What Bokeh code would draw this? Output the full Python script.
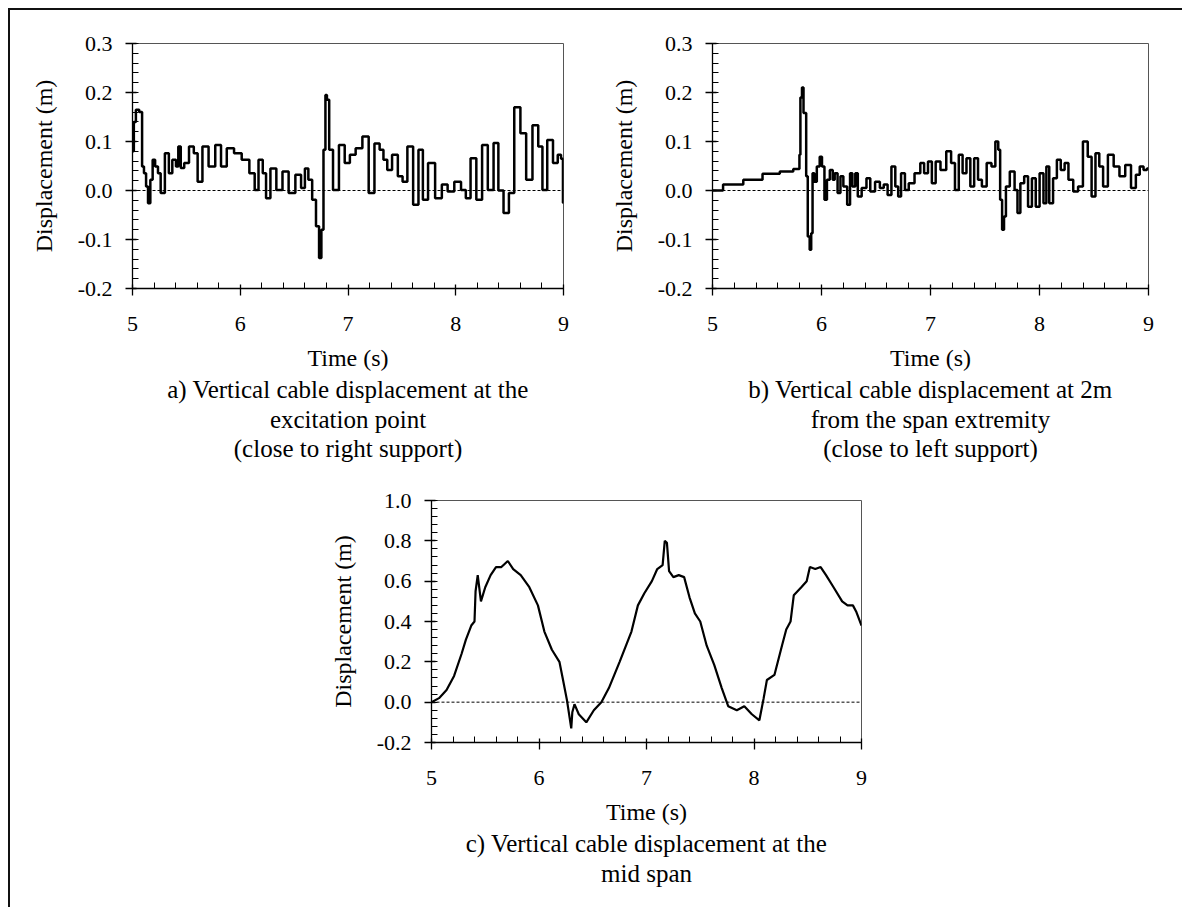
from bokeh.plotting import figure
from bokeh.models import FixedTicker, NumeralTickFormatter, Span, Title, Range1d
from bokeh.layouts import column, row
from bokeh.embed import file_html
from bokeh.resources import INLINE

FONT = "Liberation Serif"

# ---------------- data ----------------
time_a = [5.005, 5.020, 5.043, 5.082, 5.096, 5.117, 5.135, 5.153, 5.178, 5.196,
          5.224, 5.249, 5.274, 5.327, 5.348, 5.391, 5.416, 5.434, 5.462, 5.498,
          5.551, 5.587, 5.622, 5.676, 5.736, 5.800, 5.843, 5.907, 5.978, 6.049,
          6.120, 6.148, 6.191, 6.227, 6.252, 6.308, 6.362, 6.422, 6.476, 6.547,
          6.582, 6.618, 6.646, 6.689, 6.717, 6.746, 6.760, 6.785, 6.796, 6.813,
          6.838, 6.884, 6.948, 6.991, 7.044, 7.098, 7.169, 7.215, 7.276, 7.311,
          7.347, 7.382, 7.436, 7.489, 7.524, 7.578, 7.631, 7.677, 7.713, 7.773,
          7.844, 7.898, 7.951, 8.022, 8.076, 8.111, 8.164, 8.218, 8.271, 8.324,
          8.378, 8.413, 8.474, 8.513, 8.573, 8.627, 8.680, 8.744, 8.787, 8.822,
          8.876, 8.929, 8.964, 8.990, 9.000]
disp_a = [0.080, 0.140, 0.165, 0.160, 0.049, 0.035, 0.008, -0.026, 0.022, 0.063,
          0.049, 0.035, -0.005, 0.076, 0.035, 0.063, 0.049, 0.090, 0.046, 0.056,
          0.090, 0.076, 0.018, 0.090, 0.049, 0.093, 0.049, 0.086, 0.076, 0.063,
          0.035, 0.001, 0.063, 0.035, -0.016, 0.045, 0.001, 0.039, -0.005, 0.032,
          0.005, 0.045, 0.022, -0.019, -0.073, -0.138, -0.080, 0.083, 0.195, 0.185,
          0.083, 0.001, 0.093, 0.056, 0.073, 0.086, 0.110, -0.005, 0.096, 0.083,
          0.063, 0.042, 0.073, 0.029, 0.018, 0.090, -0.029, 0.083, -0.019, 0.056,
          -0.016, 0.012, -0.002, 0.018, 0.001, -0.016, 0.066, -0.019, 0.093, 0.001,
          0.097, 0.000, -0.046, -0.005, 0.170, 0.117, 0.022, 0.133, 0.090, 0.001,
          0.103, 0.056, 0.073, 0.065, -0.025]

time_b = [5.000, 5.194, 5.371, 5.547, 5.688, 5.794, 5.801, 5.812, 5.830, 5.840,
          5.854, 5.865, 5.883, 5.900, 5.911, 5.925, 5.943, 5.971, 5.996, 6.013,
          6.041, 6.059, 6.094, 6.112, 6.130, 6.165, 6.183, 6.218, 6.253, 6.271,
          6.296, 6.324, 6.342, 6.395, 6.430, 6.465, 6.518, 6.553, 6.589, 6.624,
          6.659, 6.695, 6.712, 6.748, 6.783, 6.818, 6.889, 6.924, 6.959, 6.995,
          7.030, 7.065, 7.118, 7.171, 7.207, 7.242, 7.277, 7.312, 7.348, 7.383,
          7.418, 7.454, 7.489, 7.542, 7.577, 7.613, 7.630, 7.648, 7.666, 7.683,
          7.701, 7.754, 7.789, 7.807, 7.842, 7.877, 7.913, 7.948, 7.983, 8.019,
          8.054, 8.072, 8.107, 8.142, 8.177, 8.213, 8.248, 8.283, 8.336, 8.372,
          8.425, 8.460, 8.496, 8.531, 8.566, 8.601, 8.654, 8.707, 8.760, 8.813,
          8.866, 8.902, 8.937, 8.972, 9.000]
disp_b = [0.000, 0.012, 0.022, 0.034, 0.039, 0.044, 0.073, 0.190, 0.210, 0.158,
          0.158, 0.029, -0.094, -0.121, -0.087, 0.035, 0.018, 0.049, 0.069, 0.049,
          -0.019, 0.022, 0.042, 0.022, 0.035, -0.005, 0.029, 0.008, -0.029, 0.035,
          0.008, 0.035, -0.012, 0.005, 0.025, -0.002, 0.018, 0.005, 0.012, -0.009,
          0.049, 0.008, -0.012, 0.035, 0.001, 0.015, 0.035, 0.056, 0.035, 0.059,
          0.015, 0.059, 0.042, 0.080, 0.056, 0.001, 0.073, 0.035, 0.066, 0.008,
          0.066, 0.022, 0.008, 0.056, 0.049, 0.100, 0.083, -0.019, -0.080, -0.053,
          0.008, 0.039, 0.001, -0.046, 0.015, 0.029, -0.033, 0.025, -0.033, 0.035,
          -0.026, 0.049, -0.026, 0.025, 0.063, 0.042, 0.056, 0.022, -0.002, 0.008,
          0.100, 0.069, -0.012, 0.076, 0.049, 0.008, 0.073, 0.049, 0.029, 0.052,
          0.005, 0.032, 0.049, 0.042, 0.045]

time_c = [5.00, 5.07, 5.14, 5.21, 5.28, 5.32, 5.37, 5.40, 5.41, 5.43,
          5.46, 5.50, 5.55, 5.60, 5.65, 5.71, 5.76, 5.83, 5.91, 5.99,
          6.05, 6.12, 6.19, 6.22, 6.26, 6.30, 6.31, 6.33, 6.37, 6.44,
          6.51, 6.58, 6.65, 6.75, 6.86, 6.92, 6.98, 7.05, 7.10, 7.15,
          7.17, 7.19, 7.21, 7.25, 7.30, 7.35, 7.40, 7.45, 7.50, 7.56,
          7.63, 7.70, 7.76, 7.84, 7.91, 7.98, 8.05, 8.09, 8.12, 8.19,
          8.26, 8.30, 8.34, 8.37, 8.44, 8.49, 8.52, 8.57, 8.62, 8.67,
          8.74, 8.82, 8.87, 8.92, 8.95, 9.00]
disp_c = [0.00, 0.02, 0.06, 0.13, 0.24, 0.31, 0.38, 0.40, 0.55, 0.63,
          0.50, 0.57, 0.63, 0.67, 0.67, 0.70, 0.66, 0.63, 0.57, 0.48,
          0.35, 0.26, 0.20, 0.12, 0.01, -0.13, -0.05, -0.01, -0.06, -0.10,
          -0.04, 0.00, 0.07, 0.20, 0.35, 0.48, 0.54, 0.60, 0.66, 0.68,
          0.80, 0.79, 0.65, 0.62, 0.63, 0.62, 0.52, 0.44, 0.40, 0.28,
          0.185, 0.07, -0.02, -0.04, -0.02, -0.06, -0.09, 0.02, 0.11, 0.135,
          0.28, 0.36, 0.40, 0.53, 0.57, 0.60, 0.67, 0.66, 0.67, 0.63,
          0.57, 0.50, 0.48, 0.48, 0.45, 0.38]

x_ticks = [5, 6, 7, 8, 9]
x_minor = [5.2, 5.4, 5.6, 5.8, 6.2, 6.4, 6.6, 6.8, 7.2, 7.4, 7.6, 7.8,
           8.2, 8.4, 8.6, 8.8]
y_ticks_ab = [-0.2, -0.1, 0.0, 0.1, 0.2, 0.3]
y_minor_ab = [round(-0.2 + 0.02 * i, 2) for i in range(26)]
y_ticks_c = [-0.2, 0.0, 0.2, 0.4, 0.6, 0.8, 1.0]
y_minor_c = [round(-0.2 + 0.04 * i, 2) for i in range(31)]

x_label = "Time (s)"
y_label = "Displacement (m)"
caption_a = ["a) Vertical cable displacement at the", "excitation point",
             "(close to right support)"]
caption_b = ["b) Vertical cable displacement at 2m", "from the span extremity",
             "(close to left support)"]
caption_c = ["c) Vertical cable displacement at the", "mid span"]

TICK_FS = "22px"
LABEL_FS = "24px"
CAP_FS = "25px"


def make_fig(t, d, yr, yt, ym, fw, fh, bl, br, bt, bb, caption, stepped, lw):
    p = figure(frame_width=fw, frame_height=fh,
               min_border_left=bl, min_border_right=br,
               min_border_top=bt, min_border_bottom=bb,
               x_range=Range1d(5, 9), y_range=Range1d(*yr),
               output_backend="svg", toolbar_location=None,
               background_fill_color="white", border_fill_color="white")
    p.grid.visible = False
    p.outline_line_color = "#555555"
    p.outline_line_width = 1

    p.add_layout(Span(location=0, dimension="width", line_color="black",
                      line_dash="3 2", line_width=1))
    if stepped:
        p.step(t, d, mode="center", line_color="black", line_width=lw)
    else:
        p.line(t, d, line_color="black", line_width=lw)

    for ax in (p.xaxis[0], p.yaxis[0]):
        ax.axis_line_color = "black"
        ax.axis_line_width = 1.3
        ax.major_tick_line_color = "black"
        ax.major_tick_line_width = 1.3
        ax.minor_tick_line_color = "black"
        ax.minor_tick_line_width = 1
        ax.major_tick_out = 7
        ax.major_tick_in = 4
        ax.minor_tick_in = 6
        ax.minor_tick_out = 0
        ax.major_label_text_font = FONT
        ax.major_label_text_font_size = TICK_FS
        ax.major_label_text_color = "black"
        ax.axis_label_text_font = FONT
        ax.axis_label_text_font_size = LABEL_FS
        ax.axis_label_text_font_style = "normal"
        ax.axis_label_text_color = "black"

    p.xaxis.ticker = FixedTicker(ticks=x_ticks, minor_ticks=x_minor)
    p.yaxis.ticker = FixedTicker(ticks=yt, minor_ticks=ym)
    p.yaxis.formatter = NumeralTickFormatter(format="0.0")
    p.xaxis.axis_label = x_label
    p.yaxis.axis_label = y_label
    p.xaxis.major_label_standoff = 21
    p.xaxis.axis_label_standoff = 11
    p.yaxis.major_label_standoff = 13
    p.yaxis.axis_label_standoff = 18

    for i, line in enumerate(caption):
        p.add_layout(Title(text=line, align="center", text_font=FONT,
                           text_font_size=CAP_FS, text_font_style="normal",
                           text_color="black", text_line_height=0.9,
                           standoff=1 if i == 0 else 0),
                     "below")
    return p


fa = make_fig(time_a, disp_a, (-0.2, 0.3), y_ticks_ab, y_minor_ab,
              431, 245, 122, 33, 33, 192, caption_a, True, 2.5)
fb = make_fig(time_b, disp_b, (-0.2, 0.3), y_ticks_ab, y_minor_ab,
              436, 245, 116, 34, 33, 192, caption_b, True, 2.5)
fc = make_fig(time_c, disp_c, (-0.2, 1.0), y_ticks_c, y_minor_c,
              430, 242, 421, 321, 20, 165, caption_c, False, 2.2)

layout = column(row(fa, fb, spacing=0), fc, spacing=0, margin=(8, 0, 0, 8),
                styles={"border-left": "2px solid #111111",
                        "border-top": "2px solid #111111",
                        "background": "white"})

open("out.html", "w").write(file_html(layout, INLINE))
